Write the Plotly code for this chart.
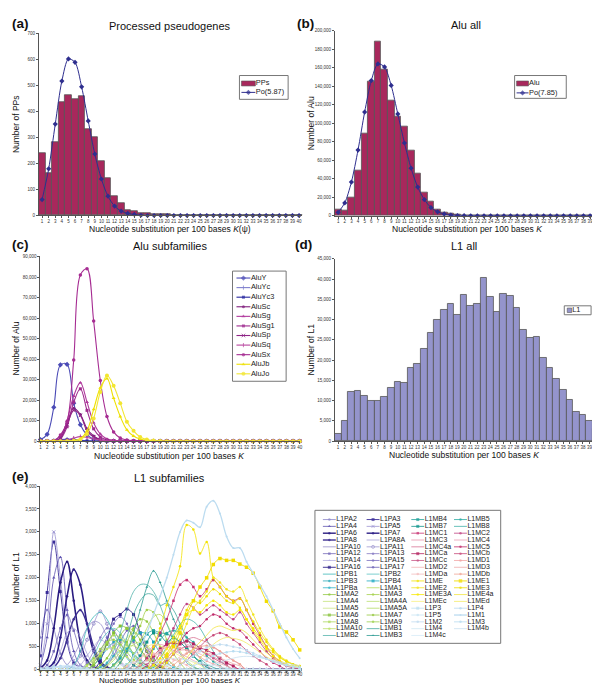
import plotly.graph_objects as go

W, H = 600, 685
K = list(range(1, 41))
K_LABELS = [str(k) for k in K]

# ---------------- (a) Processed pseudogenes ----------------
PP_COUNTS = [239, 161, 281, 437, 461, 445, 460, 330, 300, 208,
             144, 76, 48, 22, 18, 10, 9, 5, 6, 5,
             2, 2, 1, 1, 1, 1, 1, 0, 0, 0,
             0, 0, 0, 0, 0, 0, 0, 0, 0, 0]
PP_POISSON = [61, 179, 351, 516, 601, 588, 494, 363, 236, 140,
              74, 36, 17, 8, 4, 1, 0, 0, 0, 0,
              0, 0, 0, 0, 0, 0, 0, 0, 0, 0,
              0, 0, 0, 0, 0, 0, 0, 0, 0, 0]

# ---------------- (b) Alu all ----------------
ALU_COUNTS = [6400, 5400, 19600, 49300, 89300, 145000, 187900, 157900, 124000, 106800,
              96000, 70000, 45400, 24600, 15000, 6800, 3900, 2100, 1000, 600,
              400, 300, 200, 150, 100, 80, 60, 50, 40, 30,
              20, 20, 10, 10, 10, 0, 0, 0, 0, 0]
ALU_POISSON = [3600, 13900, 36400, 71000, 112000, 146000, 164000, 160700, 140700, 110000,
               78600, 51400, 31000, 17500, 8900, 4300, 2000, 800, 300, 100,
               40, 10, 0, 0, 0, 0, 0, 0, 0, 0,
               0, 0, 0, 0, 0, 0, 0, 0, 0, 0]

# ---------------- (c) Alu subfamilies (first K, values) ----------------
ALU_SUB_NAMES = ["AluY", "AluYc", "AluYc3", "AluSc", "AluSg", "AluSg1",
                 "AluSp", "AluSq", "AluSx", "AluJb", "AluJo"]
ALU_SUB_DATA = {
    "AluY": (1, [800, 3300, 16500, 37200, 37400, 18500, 8000, 3000, 1000, 300, 100]),
    "AluYc": (2, [100, 400, 800, 1000, 900, 500, 200, 80]),
    "AluYc3": (3, [200, 500, 700, 600, 300, 100]),
    "AluSc": (3, [300, 2500, 9000, 16000, 13000, 6000, 2500, 800, 300, 100]),
    "AluSg": (4, [1500, 10000, 22000, 28500, 19000, 9000, 3500, 1000, 400, 100]),
    "AluSg1": (4, [1000, 7000, 19000, 25500, 15000, 6000, 2000, 600, 200]),
    "AluSp": (4, [1500, 8000, 15000, 12500, 5000, 2000, 600, 200]),
    "AluSq": (4, [200, 500, 1500, 2200, 1800, 1000, 500, 200, 80]),
    "AluSx": (3, [200, 3000, 9500, 39500, 81000, 84000, 58500, 29500, 12000, 4500, 1500, 500, 200]),
    "AluJb": (5, [100, 300, 1200, 5000, 15500, 26000, 30500, 21000, 12000, 5500, 2500, 1000, 400, 200, 80]),
    "AluJo": (6, [200, 800, 3500, 11000, 24000, 32000, 27000, 18500, 9500, 5000, 2000, 800, 300, 100]),
}

# ---------------- (d) L1 all ----------------
L1_COUNTS = [1800, 5000, 12100, 12300, 11200, 9900, 9900, 11000, 13100, 14700,
             14300, 18100, 19000, 22700, 26700, 30000, 32400, 34000, 31200, 36200,
             33400, 33900, 40200, 35700, 32000, 36400, 35800, 32900, 27400, 25500,
             25800, 20500, 18000, 15300, 12600, 10100, 7300, 6400, 5000, 3000]

# ---------------- (e) L1 subfamilies (first K, values) ----------------
L1PA_DATA = {
    "L1PA2": (1, [700, 1300, 900, 350, 100, 30, 10]),
    "L1PA3": (1, [300, 1680, 2780, 1700, 600, 150, 50, 20]),
    "L1PA4": (1, [80, 700, 2000, 2450, 1300, 400, 100, 30]),
    "L1PA5": (1, [100, 1000, 3000, 2000, 700, 200, 60, 20]),
    "L1PA6": (1, [30, 200, 900, 1900, 2350, 1500, 600, 200, 60, 20]),
    "L1PA7": (2, [30, 150, 700, 1600, 2180, 1850, 1000, 400, 130, 40]),
    "L1PA8": (3, [50, 250, 650, 1100, 1300, 1000, 500, 180, 60]),
    "L1PA8A": (3, [100, 400, 800, 900, 700, 350, 120, 40]),
    "L1PA10": (5, [100, 300, 600, 900, 1050, 1000, 700, 350, 120, 40]),
    "L1PA11": (6, [100, 300, 650, 1000, 1270, 1000, 550, 200, 60]),
    "L1PA12": (2, [100, 400, 900, 1190, 850, 400, 150, 50]),
    "L1PA13": (8, [150, 400, 700, 900, 850, 600, 300, 100]),
    "L1PA14": (7, [100, 300, 500, 650, 550, 350, 150, 50]),
    "L1PA15": (9, [150, 400, 700, 1000, 1150, 1000, 600, 250, 80]),
    "L1PA16": (10, [200, 600, 1100, 1200, 1320, 1200, 800, 400, 150, 50]),
    "L1PA17": (11, [100, 300, 600, 850, 950, 800, 500, 250, 100]),
}
L1PB_DATA = {
    "L1PB1": (6, [100, 400, 900, 1150, 1250, 1100, 800, 500, 250, 100, 40]),
    "L1PB2": (8, [100, 300, 600, 800, 900, 800, 550, 300, 120, 40]),
    "L1PB3": (9, [100, 250, 450, 600, 650, 550, 350, 150, 50]),
    "L1PB4": (12, [100, 250, 450, 650, 800, 780, 600, 350, 150, 50]),
    "L1PBa": (10, [50, 150, 300, 400, 420, 350, 200, 80, 30]),
}
L1MA_DATA = {
    "L1MA1": (14, [100, 300, 600, 900, 1150, 1200, 1000, 700, 400, 200, 80]),
    "L1MA2": (12, [100, 300, 600, 900, 1100, 1050, 800, 500, 250, 100]),
    "L1MA3": (13, [150, 400, 700, 950, 1300, 1250, 1000, 650, 350, 150]),
    "L1MA4": (11, [100, 250, 500, 700, 800, 750, 550, 350, 150]),
    "L1MA4A": (12, [80, 200, 400, 550, 600, 500, 350, 180, 80]),
    "L1MA5": (10, [100, 250, 450, 600, 650, 550, 400, 220, 100]),
    "L1MA5A": (11, [80, 200, 380, 500, 520, 420, 280, 140]),
    "L1MA6": (9, [100, 300, 550, 800, 950, 900, 700, 450, 250, 100]),
    "L1MA7": (10, [100, 250, 500, 750, 900, 850, 650, 400, 200, 80]),
    "L1MA8": (9, [150, 350, 600, 750, 700, 550, 350, 180, 80]),
    "L1MA9": (8, [100, 250, 450, 600, 650, 550, 380, 220, 100]),
    "L1MA10": (8, [80, 200, 350, 450, 480, 400, 280, 150, 70]),
}
L1MB_DATA = {
    "L1MB1": (12, [100, 300, 700, 1200, 1500, 1650, 1620, 1400, 1450, 1300, 1000, 700, 450, 250, 120, 50]),
    "L1MB2": (11, [150, 400, 800, 1300, 1700, 1850, 1850, 1700, 1400, 1000, 650, 350, 150, 60]),
    "L1MB3": (13, [150, 400, 800, 1300, 1800, 2150, 1900, 1500, 1100, 800, 500, 300, 150, 60]),
    "L1MB4": (14, [100, 300, 550, 780, 850, 800, 780, 700, 600, 450, 300, 180, 80]),
    "L1MB5": (16, [100, 250, 450, 650, 800, 850, 800, 700, 600, 450, 300, 180, 80]),
    "L1MB7": (15, [100, 300, 600, 800, 750, 600, 700, 600, 450, 300, 150]),
    "L1MB8": (18, [100, 250, 500, 750, 1000, 1100, 1050, 900, 650, 400, 200, 80]),
}
L1MC_DATA = {
    "L1MC1": (16, [100, 250, 500, 800, 1100, 1500, 1850, 1950, 1800, 1600, 1750, 1950, 1800, 1600, 1500,
                   1550, 1300, 1000, 750, 500, 300, 180, 100, 50, 30]),
    "L1MC2": (18, [150, 350, 600, 900, 1200, 1430, 1350, 1200, 1300, 1400, 1300, 1200, 1100, 1250, 1000,
                   800, 600, 400, 250, 150, 80, 40]),
    "L1MC3": (17, [100, 250, 400, 550, 600, 600, 550, 500, 420, 350, 280, 200, 130, 80]),
    "L1MC4": (15, [100, 250, 400, 500, 550, 500, 420, 350, 280, 200, 130, 80]),
    "L1MC4a": (19, [100, 250, 400, 550, 650, 700, 650, 600, 500, 400, 300, 200, 120]),
    "L1MC5": (20, [150, 350, 600, 800, 900, 950, 1100, 1200, 1150, 1000, 900, 850, 700, 550, 400, 250, 150, 80]),
    "L1MCa": (17, [100, 300, 450, 550, 580, 560, 620, 560, 480, 420, 350, 250, 150, 80]),
    "L1MCb": (22, [100, 200, 350, 500, 650, 750, 800, 750, 650, 550, 420, 300, 200, 120]),
    "L1MCc": (19, [100, 200, 330, 450, 500, 480, 420, 340, 250, 170, 100]),
    "L1MD1": (16, [100, 200, 320, 420, 480, 500, 470, 420, 350, 270, 190, 120, 70]),
    "L1MD2": (18, [100, 200, 300, 380, 420, 430, 400, 340, 270, 200, 130, 80]),
    "L1MD3": (20, [80, 180, 280, 360, 400, 400, 370, 320, 260, 190, 130, 80]),
    "L1MDa": (14, [80, 150, 250, 320, 350, 330, 280, 220, 160, 100]),
    "L1MDb": (21, [100, 220, 350, 450, 500, 520, 480, 400, 300, 200, 120]),
}
L1ME_DATA = {
    "L1ME": (18, [500, 900, 1400, 1800, 2250, 3150, 3050, 2530, 2780, 2000, 1800, 1600, 1500, 1350,
                  1100, 900, 700, 500, 380, 260, 180, 120, 80]),
    "L1ME1": (20, [300, 500, 800, 1200, 1500, 1800, 2000, 2290, 2420, 2380, 2380, 2300, 2230, 2100,
                   1800, 1490, 1280, 930, 820, 650, 430]),
    "L1ME2": (20, [150, 350, 650, 1000, 1350, 1500, 1700, 2000, 1900, 1750, 1700, 1800, 1500, 1200,
                   900, 650, 450, 300, 200, 120, 80]),
    "L1ME3": (19, [150, 350, 600, 900, 1300, 1500, 1450, 1600, 1750, 1650, 1500, 1450, 1550, 1300,
                   1050, 800, 600, 420, 280, 180, 110, 70]),
    "L1ME3A": (18, [100, 250, 450, 700, 950, 1200, 1300, 1250, 1400, 1500, 1400, 1250, 1200, 1300,
                    1100, 850, 650, 450, 300, 200, 120, 70, 40]),
    "L1ME4a": (22, [100, 250, 450, 600, 750, 900, 950, 900, 850, 880, 800, 650, 500, 370, 250, 170,
                    110, 70, 40]),
    "L1MEc": (14, [100, 250, 400, 500, 550, 520, 450, 380, 300, 230, 160, 100]),
    "L1MEd": (24, [100, 250, 400, 550, 650, 700, 680, 650, 580, 480, 380, 280, 200, 140, 90, 60, 40]),
}
L1M_DATA = {
    "L1P3": (1, [20, 40, 60, 50, 40, 30, 20]),
    "L1P4": (2, [20, 50, 80, 70, 50, 30]),
    "L1P5": (3, [30, 60, 90, 80, 50, 30]),
    "L1M1": (15, [300, 500, 800, 1200, 1600, 2000, 2500, 3000, 3250, 3200, 3100, 3550, 3680, 3400,
                  2900, 2650, 2650, 2350, 2100, 1850, 1600, 1300, 1000, 700, 450, 250]),
    "L1M2": (22, [100, 200, 300, 400, 480, 520, 550, 530, 500, 470, 420, 360, 300, 240, 180, 130, 90,
                  60, 40]),
    "L1M3": (24, [80, 150, 220, 300, 350, 380, 400, 390, 360, 320, 280, 230, 180, 140, 100, 70, 50]),
    "L1M4": (16, [50, 100, 160, 200, 230, 240, 230, 210, 180, 150, 120, 90, 60, 40]),
    "L1M4b": (26, [60, 110, 160, 210, 250, 280, 290, 280, 260, 230, 200, 170, 140, 110, 90]),
    "L1M4c": (12, [40, 80, 120, 150, 170, 170, 150, 120, 90, 60, 40]),
}

L1_ORDER = [
    "L1PA2", "L1PA3", "L1PA4", "L1PA5", "L1PA6", "L1PA7", "L1PA8", "L1PA8A", "L1PA10", "L1PA11",
    "L1PA12", "L1PA13", "L1PA14", "L1PA15", "L1PA16", "L1PA17", "L1PB1", "L1PB2", "L1PB3", "L1PB4",
    "L1PBa", "L1MA1", "L1MA2", "L1MA3", "L1MA4", "L1MA4A", "L1MA5", "L1MA5A", "L1MA6", "L1MA7",
    "L1MA8", "L1MA9", "L1MA10", "L1MB1", "L1MB2", "L1MB3",
    "L1MB4", "L1MB5", "L1MB7", "L1MB8", "L1MC1", "L1MC2", "L1MC3", "L1MC4", "L1MC4a", "L1MC5",
    "L1MCa", "L1MCb", "L1MCc", "L1MD1", "L1MD2", "L1MD3", "L1MDa", "L1MDb", "L1ME", "L1ME1",
    "L1ME2", "L1ME3", "L1ME3A", "L1ME4a", "L1MEc", "L1MEd", "L1P3", "L1P4", "L1P5", "L1M1",
    "L1M2", "L1M3", "L1M4", "L1M4b", "L1M4c",
]

# ---------------- styles ----------------
FONT = "Liberation Sans, Arial, Helvetica, sans-serif"
BAR_RED = "#A8285C"
BAR_BLUE = "#9494CC"
PO_LINE = "#2E2E8E"

ALU_STYLE = {  # color, symbol, marker size
    "AluY": ("#4B4BB6", "diamond", 4),
    "AluYc": ("#7E7ECC", "line-ns-open", 3),
    "AluYc3": ("#26269E", "square", 3),
    "AluSc": ("#80207E", "circle", 3),
    "AluSg": ("#B0389C", "triangle-up", 3.5),
    "AluSg1": ("#9E2A8E", "square", 3),
    "AluSp": ("#8E2486", "x-thin-open", 3.5),
    "AluSq": ("#B8449E", "line-ns-open", 3),
    "AluSx": ("#A62C92", "circle", 3.5),
    "AluJb": ("#EEE000", "triangle-up", 3.5),
    "AluJo": ("#F2E630", "circle", 4),
}

L1_STYLE = {  # color, symbol, marker size, line width
    "L1PA2": ("#8A84C8", "circle", 2.5, 0.8), "L1PA3": ("#3A2C98", "square", 3, 0.9),
    "L1PA4": ("#5E52B0", "triangle-up", 3, 0.8), "L1PA5": ("#9C94D2", "x-thin-open", 3, 0.8),
    "L1PA6": ("#2A1C80", "circle", 2.5, 1.6), "L1PA7": ("#2C1E86", "circle", 2.5, 1.6),
    "L1PA8": ("#3E3092", "circle", 2.5, 1.4), "L1PA8A": ("#A8A2D8", "circle", 0, 0.8),
    "L1PA10": ("#9890CC", "circle", 0, 0.8), "L1PA11": ("#A098D0", "circle-open", 3, 0.8),
    "L1PA12": ("#7468B8", "square", 2.5, 0.8), "L1PA13": ("#8478C2", "circle", 2.5, 0.8),
    "L1PA14": ("#B4AEE0", "triangle-up", 2.5, 0.8), "L1PA15": ("#7A6EC0", "circle", 2.5, 0.8),
    "L1PA16": ("#30228A", "square", 3, 0.9), "L1PA17": ("#6C62B6", "circle", 2.5, 0.8),
    "L1PB1": ("#3CB8B8", "circle", 0, 0.8), "L1PB2": ("#5CC4C4", "circle", 0, 0.8),
    "L1PB3": ("#28A8B8", "circle", 2.5, 0.8), "L1PB4": ("#1AA8C0", "square", 3, 0.8),
    "L1PBa": ("#30B4C8", "circle", 2.5, 0.8),
    "L1MA1": ("#B4DC5A", "circle", 0, 0.8), "L1MA2": ("#92C840", "circle", 2.5, 0.8),
    "L1MA3": ("#A4D048", "circle", 2.5, 0.8), "L1MA4": ("#C4E27A", "circle", 0, 0.8),
    "L1MA4A": ("#BAE070", "circle", 0, 0.8), "L1MA5": ("#CCE488", "circle", 0, 0.8),
    "L1MA5A": ("#B2DA64", "circle", 0, 0.8), "L1MA6": ("#84C034", "square", 3, 0.8),
    "L1MA7": ("#94C83C", "circle", 2.5, 0.8), "L1MA8": ("#ACD85C", "square", 2.5, 0.8),
    "L1MA9": ("#9CD04C", "circle", 2.5, 0.8), "L1MA10": ("#BCE06C", "circle", 2.5, 0.8),
    "L1MB1": ("#44A8A0", "circle", 0, 0.8), "L1MB2": ("#54B4AC", "circle", 0, 0.8),
    "L1MB3": ("#2E9C94", "triangle-up", 2.5, 0.8), "L1MB4": ("#1EA098", "square", 3, 0.8),
    "L1MB5": ("#28AAA2", "circle", 2.5, 0.8), "L1MB7": ("#0E948C", "square", 3, 0.8),
    "L1MB8": ("#42B2AA", "circle", 0, 0.8),
    "L1MC1": ("#C83272", "square", 2.5, 0.8), "L1MC2": ("#C04282", "circle", 2.5, 0.8),
    "L1MC3": ("#E894AC", "circle", 0, 0.8), "L1MC4": ("#EA9CB4", "circle", 0, 0.8),
    "L1MC4a": ("#D87494", "circle", 0, 0.8), "L1MC5": ("#C02A6A", "circle", 2.5, 0.8),
    "L1MCa": ("#B42260", "square", 3, 0.8), "L1MCb": ("#C84A7A", "circle", 2.5, 0.8),
    "L1MCc": ("#C85484", "circle", 2.5, 0.8), "L1MD1": ("#F2A4A4", "circle", 2.5, 0.8),
    "L1MD2": ("#F2B4B4", "circle", 0, 0.8), "L1MD3": ("#F0ACAC", "circle", 0, 0.8),
    "L1MDa": ("#F4BCBC", "circle", 2.5, 0.8), "L1MDb": ("#F0A494", "circle", 2.5, 0.8),
    "L1ME": ("#F2E200", "circle", 2.5, 0.8), "L1ME1": ("#F2DC00", "square", 3.5, 0.9),
    "L1ME2": ("#F2E420", "circle", 2.5, 0.8), "L1ME3": ("#EEDE00", "circle", 2.5, 0.8),
    "L1ME3A": ("#F8E800", "circle", 2.5, 0.8), "L1ME4a": ("#F2E440", "circle", 0, 0.8),
    "L1MEc": ("#F8F080", "circle", 0, 0.8), "L1MEd": ("#F2EA64", "circle", 0, 0.8),
    "L1P3": ("#BEDEF0", "square", 3, 0.8), "L1P4": ("#B8D8F0", "circle", 2.5, 0.8),
    "L1P5": ("#C8E4F4", "circle", 2.5, 0.8), "L1M1": ("#BCDCF0", "circle", 2, 1.3),
    "L1M2": ("#C0DCF0", "circle", 2.5, 0.8), "L1M3": ("#B8DCF0", "circle", 2.5, 0.8),
    "L1M4": ("#D0E8F4", "circle", 0, 0.8), "L1M4b": ("#C8E0F0", "circle", 0, 0.8),
    "L1M4c": ("#D8ECF8", "circle", 0, 0.8),
}


def expand(start, vals):
    full = [0] * len(K)
    for i, v in enumerate(vals):
        full[start - 1 + i] = v
    return full


def xdom(px0, px1):
    return [px0 / W, px1 / W]


def ydom(py_top, py_bottom):
    return [(H - py_bottom) / H, (H - py_top) / H]


def mk(col, sym, sz):
    open_sym = sym.endswith("-open")
    return dict(size=sz, symbol=sym, color=col,
                line=dict(color=col, width=1 if open_sym else 0))


fig = go.Figure()

# (a)
fig.add_trace(go.Bar(x=K, y=PP_COUNTS, name="PPs", xaxis="x", yaxis="y",
                     marker=dict(color=BAR_RED, line=dict(color="#555555", width=0.8))))
fig.add_trace(go.Scatter(x=K, y=PP_POISSON, name="Po(5.87)", xaxis="x", yaxis="y",
                         mode="lines+markers", cliponaxis=False,
                         line=dict(color=PO_LINE, width=1, shape="spline", smoothing=0.8),
                         marker=mk(PO_LINE, "diamond", 4)))
# (b)
fig.add_trace(go.Bar(x=K, y=ALU_COUNTS, name="Alu", xaxis="x2", yaxis="y2",
                     marker=dict(color=BAR_RED, line=dict(color="#555555", width=0.8))))
fig.add_trace(go.Scatter(x=K, y=ALU_POISSON, name="Po(7.85)", xaxis="x2", yaxis="y2",
                         mode="lines+markers", cliponaxis=False,
                         line=dict(color=PO_LINE, width=1, shape="spline", smoothing=0.8),
                         marker=mk(PO_LINE, "diamond", 4)))
# (c)
for nm in ALU_SUB_NAMES:
    st, vals = ALU_SUB_DATA[nm]
    col, sym, sz = ALU_STYLE[nm]
    fig.add_trace(go.Scatter(x=K, y=expand(st, vals), name=nm, xaxis="x3", yaxis="y3",
                             mode="lines+markers", cliponaxis=False,
                             line=dict(color=col, width=1.1, shape="spline"),
                             marker=mk(col, sym, sz)))
# (d)
fig.add_trace(go.Bar(x=K, y=L1_COUNTS, name="L1", xaxis="x4", yaxis="y4",
                     marker=dict(color=BAR_BLUE, line=dict(color="#555555", width=0.8))))
# (e)
L1_ALL = {}
for d in (L1PA_DATA, L1PB_DATA, L1MA_DATA, L1MB_DATA, L1MC_DATA, L1ME_DATA, L1M_DATA):
    L1_ALL.update(d)
for nm in L1_ORDER:
    st, vals = L1_ALL[nm]
    col, sym, sz, lw = L1_STYLE[nm]
    fig.add_trace(go.Scatter(x=K, y=expand(st, vals), name=nm, xaxis="x5", yaxis="y5",
                             mode="lines+markers" if sz > 0 else "lines", cliponaxis=False,
                             line=dict(color=col, width=lw, shape="spline"),
                             marker=mk(col, sym, sz)))

# ---------------- custom legends on a pixel overlay axis ----------------
shapes = []
LEG_TEXT = {"big": ([], [], []), "small": ([], [], [])}


def add_label(x, y, label, group):
    xs, ys, ts = LEG_TEXT[group]
    xs.append(x)
    ys.append(y)
    ts.append(label)


def legend_box(x0, y0, x1, y1):
    shapes.append(dict(type="rect", xref="x6", yref="y6", x0=x0, y0=y0, x1=x1, y1=y1,
                       line=dict(color="#777777", width=1), fillcolor="white", layer="below"))


def legend_bar(x0, y, w, h, col, label):
    shapes.append(dict(type="rect", xref="x6", yref="y6", x0=x0, x1=x0 + w,
                       y0=y - h / 2, y1=y + h / 2, fillcolor=col,
                       line=dict(color="#555555", width=0.6), layer="below"))
    add_label(x0 + w + 0.5, y, label, "big")


def legend_line(x0, y, w, col, sym, sz, lw, label, group):
    m = mk(col, sym, sz)
    m["size"] = [0, sz, 0]
    fig.add_trace(go.Scatter(x=[x0, x0 + w / 2, x0 + w], y=[y, y, y], xaxis="x6", yaxis="y6",
                             mode="lines+markers", hoverinfo="skip", cliponaxis=False,
                             line=dict(color=col, width=lw), marker=m))
    add_label(x0 + w + 0.5, y, label, group)


# (a) legend
legend_box(232, 66, 281, 90)
legend_bar(234, 74, 14, 5, BAR_RED, "PPs")
legend_line(234, 83, 14, PO_LINE, "diamond", 4, 1, "Po(5.87)", "big")
# (b) legend
legend_box(509, 66, 561, 89)
legend_bar(511, 74, 12, 5, BAR_RED, "Alu")
legend_line(511, 83.5, 12, PO_LINE, "diamond", 4, 1, "Po(7.85)", "big")
# (c) legend
legend_box(225, 263, 279, 374)
for i, nm in enumerate(ALU_SUB_NAMES):
    col, sym, sz = ALU_STYLE[nm]
    legend_line(229, 270 + i * 9.65, 14, col, sym, sz, 1.1, nm, "big")
# (d) legend
legend_box(559, 298, 586, 307)
legend_bar(562, 302.5, 4.5, 4.5, BAR_BLUE, "L1")
# (e) legend
legend_box(308, 504, 495, 638)
COL_X = [316, 360, 405, 448]
for i, nm in enumerate(L1_ORDER):
    if i < 36:
        row, colno = i // 2, i % 2
    else:
        row, colno = (i - 36) // 2, 2 + (i - 36) % 2
    col, sym, sz, lw = L1_STYLE[nm]
    legend_line(COL_X[colno], 513.3 + row * 6.87, 13, col, sym, sz, min(lw, 1.4), nm, "small")

for group, fsize in (("big", 7.4), ("small", 7)):
    xs, ys, ts = LEG_TEXT[group]
    fig.add_trace(go.Scatter(x=xs, y=ys, text=ts, mode="text",
                             xaxis="x6", yaxis="y6", textposition="middle right",
                             hoverinfo="skip", cliponaxis=False,
                             textfont=dict(size=fsize, color="#222222", family=FONT)))

# ---------------- annotations: panel letters, titles, axis titles ----------------
annotations = []


def txt(x, y, s, size, angle=0, xanchor="center"):
    annotations.append(dict(x=x / W, y=(H - y) / H, xref="paper", yref="paper", text=s,
                            showarrow=False, textangle=angle, xanchor=xanchor, yanchor="middle",
                            borderpad=0,
                            font=dict(size=size, color="#111111", family=FONT)))


PANEL_LETTERS = [("(a)", 2, 14), ("(b)", 289, 14), ("(c)", 2, 236.5), ("(d)", 287, 236.5), ("(e)", 2, 470)]
for s, x, y in PANEL_LETTERS:
    txt(x, y, "<b>" + s + "</b>", 13.5, xanchor="left")

txt(162, 16, "Processed pseudogenes", 11)
txt(460, 15, "Alu all", 11)
txt(162, 238, "Alu subfamilies", 11)
txt(458, 238, "L1 all", 11)
txt(162, 471, "L1 subfamilies", 11)

txt(162, 221, "Nucleotide substitution per 100 bases <i>K</i>(ψ)", 8.5)
txt(461, 221, "Nucleotide substitution per 100 bases <i>K</i>", 8.5)
txt(161, 449, "Nucleotide substitution per 100 bases <i>K</i>", 8.5)
txt(458, 448.5, "Nucleotide substitution per 100 bases <i>K</i>", 8.5)
txt(162, 675.5, "Nucleotide substitution per 100 bases <i>K</i>", 8)

txt(7, 115, "Number of PPs", 8.5, angle=-90)
txt(304, 114, "Number of Alu", 8.5, angle=-90)
txt(7, 341, "Number of Alu", 8.5, angle=-90)
txt(304, 342, "Number of L1", 8.5, angle=-90)
txt(7, 572, "Number of L1", 8.5, angle=-90)

# ---------------- axes ----------------
AX = dict(showline=True, linecolor="#555555", linewidth=1, ticks="outside", ticklen=2,
          tickwidth=1, tickcolor="#555555", tickfont=dict(size=4.5, color="#333333", family=FONT),
          showgrid=False, zeroline=False, fixedrange=True)
XA = dict(AX, tickmode="array", tickvals=K, ticktext=K_LABELS, tickangle=0, ticklabelstandoff=-1)
YA = dict(AX, tickformat=",d")

fig.update_layout(
    width=W, height=H, autosize=False,
    margin=dict(l=0, r=0, t=0, b=0),
    paper_bgcolor="white", plot_bgcolor="rgba(0,0,0,0)",
    showlegend=False, bargap=0,
    font=dict(family=FONT),
    xaxis=dict(XA, domain=xdom(30, 295.3), range=[0.5, 40.5], anchor="y"),
    yaxis=dict(YA, domain=ydom(23.3, 207), range=[0, 700], dtick=100, anchor="x"),
    xaxis2=dict(XA, domain=xdom(328, 595), range=[0.5, 40.5], anchor="y2"),
    yaxis2=dict(YA, domain=ydom(20.7, 207.3), range=[0, 200000], dtick=20000, anchor="x2"),
    xaxis3=dict(XA, domain=xdom(31.7, 293), range=[1, 40.05], anchor="y3"),
    yaxis3=dict(YA, domain=ydom(248.3, 434.3), range=[0, 90000], dtick=10000, anchor="x3"),
    xaxis4=dict(XA, domain=xdom(328, 594.5), range=[0.5, 40.5], anchor="y4"),
    yaxis4=dict(YA, domain=ydom(250.7, 434.3), range=[0, 45000], dtick=5000, anchor="x4"),
    xaxis5=dict(XA, domain=xdom(31.7, 293), range=[1, 40.05], anchor="y5", ticklabelstandoff=-2),
    yaxis5=dict(YA, domain=ydom(479.5, 664.5), range=[0, 4000], dtick=500, anchor="x5"),
    xaxis6=dict(domain=[0, 1], range=[0, W], visible=False, fixedrange=True, anchor="y6"),
    yaxis6=dict(domain=[0, 1], range=[H, 0], visible=False, fixedrange=True, anchor="x6"),
    shapes=shapes,
    annotations=annotations,
)

fig.write_html("out.html")
